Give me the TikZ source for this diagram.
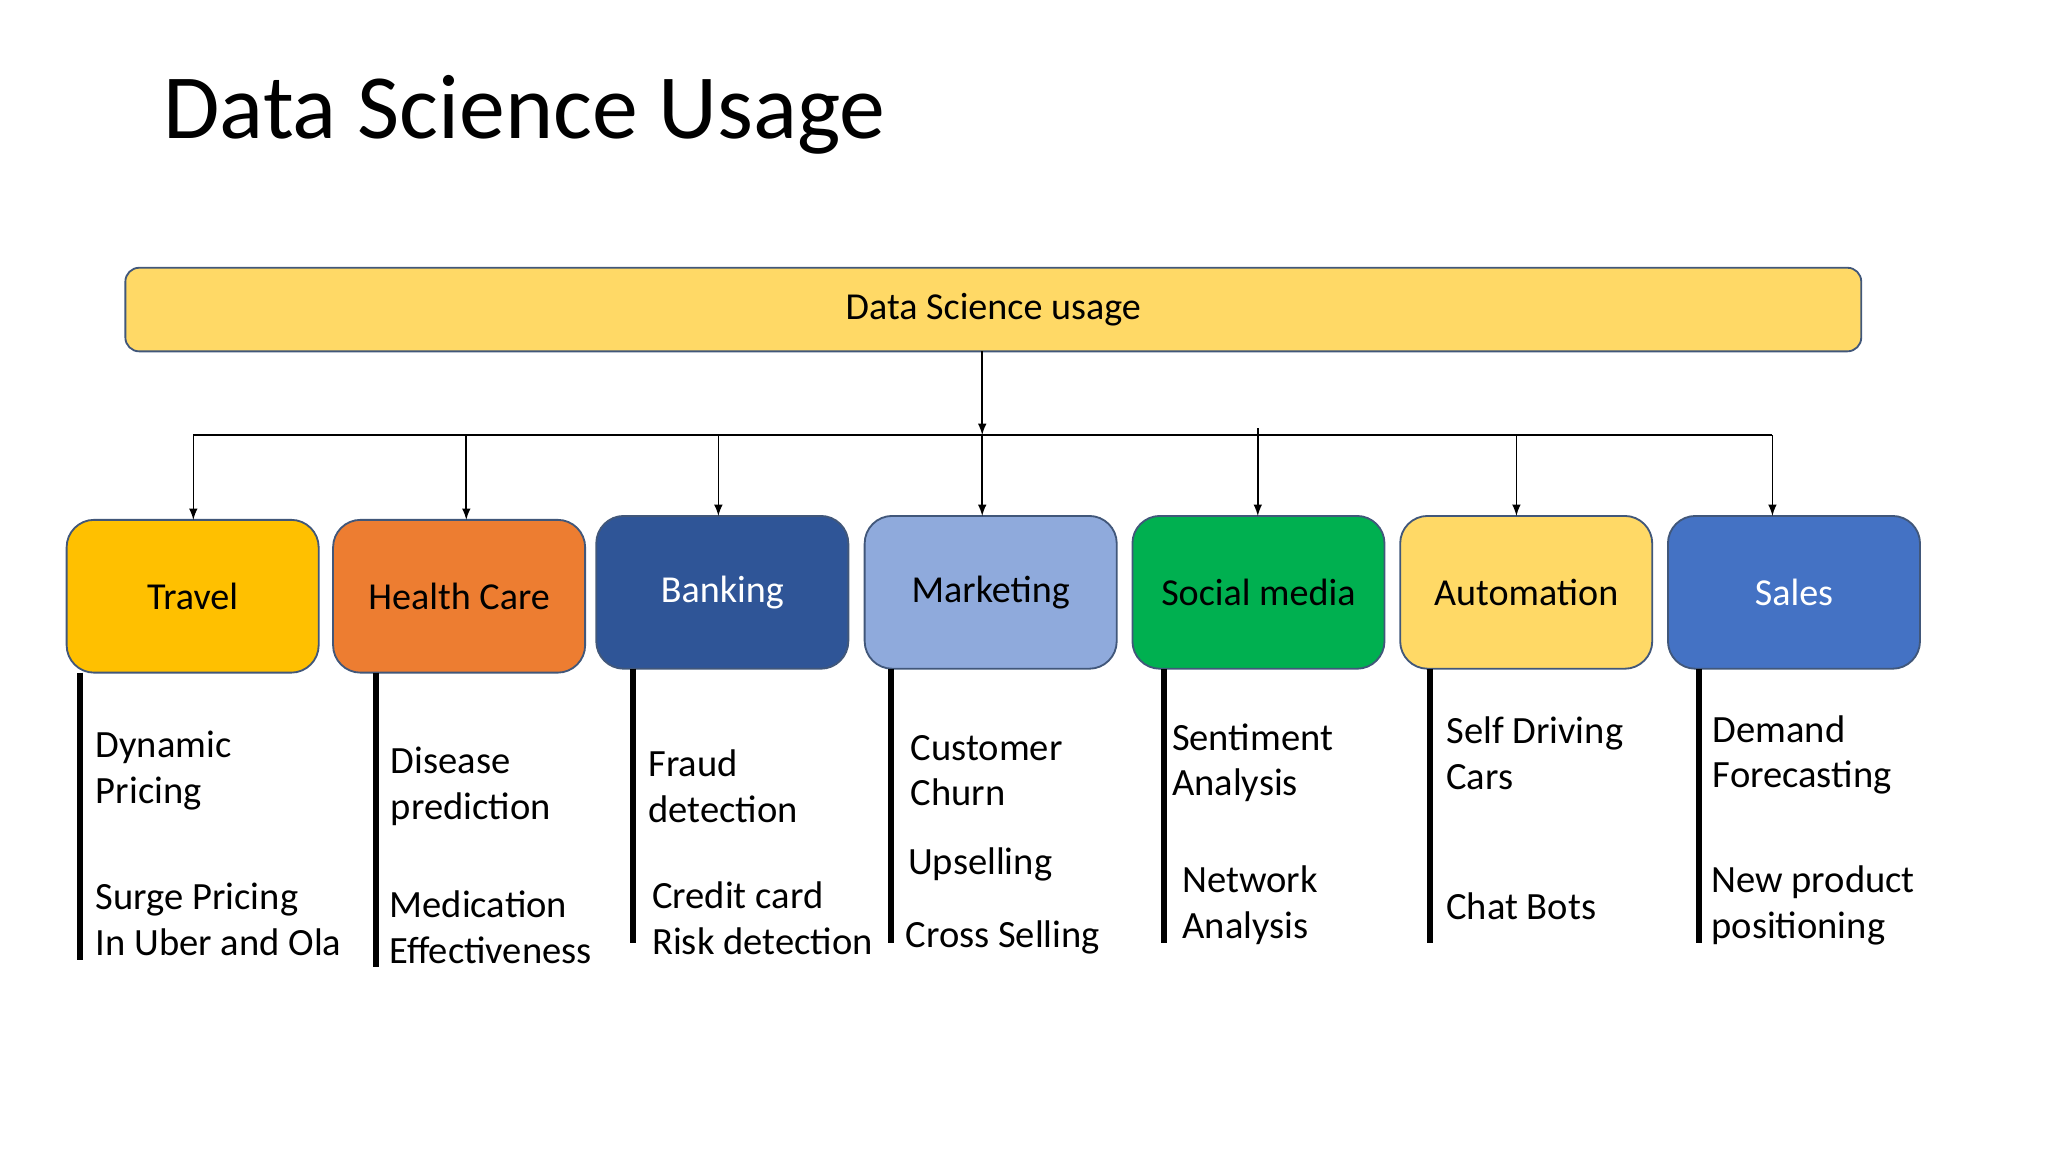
\documentclass[tikz,border=0pt]{standalone}
\usepackage{fontspec}
\setmainfont{Carlito}
\begin{document}
\begin{tikzpicture}[x=0.02cm,y=-0.02cm,
 arr/.style={-latex,line width=0.7pt},
 bar/.style={line width=2.6pt},
 item/.style={anchor=west,align=left,font=\fontsize{16.8}{20}\selectfont,inner sep=0pt}]
\definecolor{top}{HTML}{FFD966}
\definecolor{bd}{HTML}{41577A}
\useasboundingbox (0,0) rectangle (1568,882);
\node[anchor=west,font=\fontsize{40}{48}\selectfont] (title) at (119,88) {Data Science Usage};
\node[draw=bd,fill=top,rounded corners=6pt,line width=0.8pt,minimum width=1329*0.02cm,minimum height=64*0.02cm,font=\fontsize{16.6}{20}\selectfont] (root) at (760.5,237) {Data Science usage};
\tikzset{cat/.style={draw=bd,rounded corners=12pt,line width=0.8pt,minimum width=193*0.02cm,minimum height=117*0.02cm,font=\fontsize{16.6}{20}\selectfont,inner sep=0pt}}
\node[cat,fill={rgb,255:red,255;green,192;blue,0}] (travel) at (147.5,456.5) {Travel};
\node[cat,fill={rgb,255:red,237;green,125;blue,49}] (health) at (351.5,456.5) {Health Care};
\node[cat,fill={rgb,255:red,47;green,85;blue,151},text=white] (bank) at (553,453.5) {Banking};
\node[cat,fill={rgb,255:red,143;green,170;blue,220}] (mkt) at (758.5,453.5) {Marketing};
\node[cat,fill={rgb,255:red,0;green,176;blue,80}] (social) at (963.5,453.5) {Social media};
\node[cat,fill={rgb,255:red,255;green,217;blue,102}] (auto) at (1168.5,453.5) {Automation};
\node[cat,fill={rgb,255:red,68;green,114;blue,196},text=white] (sales) at (1373.5,453.5) {Sales};
\coordinate (j) at (752,333);
\draw[arr] (752,269) -- (j);
\draw[line width=0.6pt] (148,333) -- (1357,333);
\draw[arr] (148,333) -- (148,398);
\draw[arr] (357,333) -- (357,398);
\draw[arr] (550,333) -- (550,395);
\draw[arr] (752,333) -- (752,395);
\draw[arr] (963,328) -- (963,395);
\draw[arr] (1161,333) -- (1161,395);
\draw[arr] (1357,333) -- (1357,395);
\draw[bar] (61,515) -- (61,735);
\draw[bar] (288,515) -- (288,740);
\draw[bar] (485,512) -- (485,722);
\draw[bar] (682,512) -- (682,722);
\draw[bar] (891,512) -- (891,722);
\draw[bar] (1095,512) -- (1095,722);
\draw[bar] (1301,512) -- (1301,722);
\node[item] (t1) at (73,590) {Dynamic\\Pricing};
\node[item] (t2) at (73,704) {Surge Pricing\\In Uber and Ola};
\node[item] (h1) at (299,602) {Disease\\prediction};
\node[item] (h2) at (298,710) {Medication\\Effectiveness};
\node[item] (b1) at (496,602) {Fraud\\detection};
\node[item] (b2) at (499,703) {Credit card\\Risk detection};
\node[item] (m1) at (697,590) {Customer\\Churn};
\node[item] (m2) at (695,662) {Upselling};
\node[item] (m3) at (693,718) {Cross Selling};
\node[item] (s1) at (897,584) {Sentiment\\Analysis};
\node[item] (s2) at (905,693) {Network\\Analysis};
\node[item] (a1) at (1107,577) {Self Driving\\Cars};
\node[item] (a2) at (1107,694) {Chat Bots};
\node[item] (p1) at (1311,578) {Demand\\Forecasting};
\node[item] (p2) at (1310,693) {New product\\positioning};
\end{tikzpicture}
\end{document}
